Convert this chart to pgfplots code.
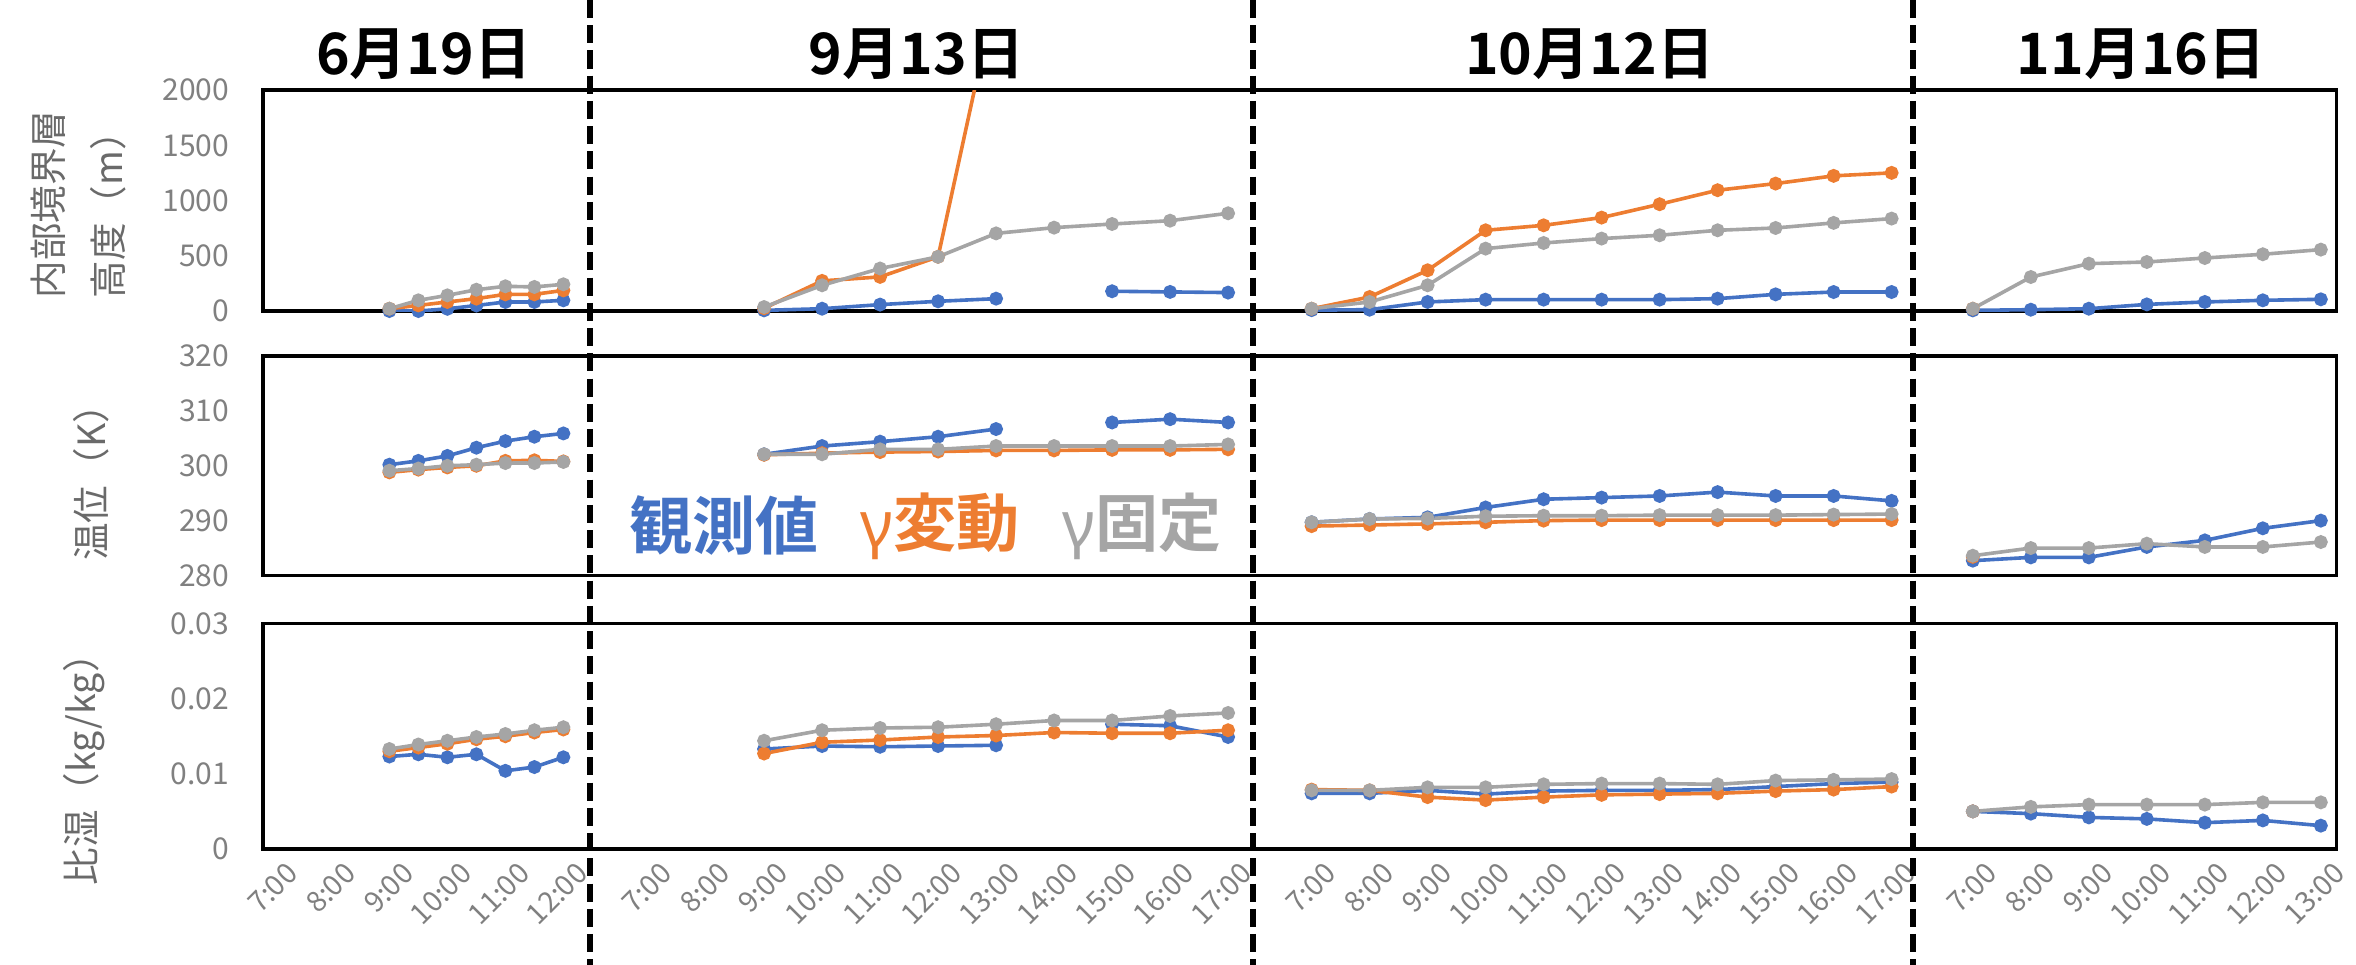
\documentclass[border=0pt]{standalone}
\usepackage{fontspec}
\setmainfont{Noto Sans CJK JP}[BoldFont={Noto Sans CJK JP Bold}]
\newfontfamily\latinfont{Noto Sans}
\usepackage{pgfplots}
\usepackage{pgfplotstable}
\pgfplotsset{compat=1.18}
\definecolor{cblue}{HTML}{4472C4}
\definecolor{corange}{HTML}{ED7D31}
\definecolor{cgray}{HTML}{A5A5A5}
\definecolor{tickgray}{HTML}{808080}
\definecolor{labgray}{HTML}{6A6A6A}

% ---------------- data ----------------
% x: day1 7:00=0 ; day2 7:00=6.46 ; day3 7:00=17.90 ; day4 7:00=29.30
\pgfplotstableread[row sep=\\]{
x y\\
2 0\\ 2.5 0\\ 3 20\\ 3.5 50\\ 4 82\\ 4.5 82\\ 5 97\\
nan nan\\
8.46 6\\ 9.46 21\\ 10.46 58\\ 11.46 88\\ 12.46 112\\ 13.46 nan\\ 14.46 179\\ 15.46 173\\ 16.46 167\\
nan nan\\
17.90 8\\ 18.90 12\\ 19.90 82\\ 20.90 103\\ 21.90 103\\ 22.90 103\\ 23.90 103\\ 24.90 112\\ 25.90 151\\ 26.90 172\\ 27.90 172\\
nan nan\\
29.30 6\\ 30.30 12\\ 31.30 21\\ 32.30 60\\ 33.30 82\\ 34.30 97\\ 35.30 106\\
}\hObs
\pgfplotstableread[row sep=\\]{
x y\\
2 21\\ 2.5 51\\ 3 82\\ 3.5 112\\ 4 151\\ 4.5 151\\ 5 187\\
nan nan\\
8.46 25\\ 9.46 273\\ 10.46 309\\ 11.46 491\\ 12.46 2900\\
nan nan\\
17.90 21\\ 18.90 127\\ 19.90 369\\ 20.90 731\\ 21.90 776\\ 22.90 846\\ 23.90 967\\ 24.90 1094\\ 25.90 1154\\ 26.90 1224\\ 27.90 1251\\
nan nan\\
29.30 21\\
}\hVar
\pgfplotstableread[row sep=\\]{
x y\\
2 21\\ 2.5 97\\ 3 142\\ 3.5 193\\ 4 224\\ 4.5 218\\ 5 242\\
nan nan\\
8.46 36\\ 9.46 233\\ 10.46 385\\ 11.46 491\\ 12.46 703\\ 13.46 755\\ 14.46 788\\ 15.46 818\\ 16.46 885\\
nan nan\\
17.90 21\\ 18.90 82\\ 19.90 233\\ 20.90 565\\ 21.90 616\\ 22.90 656\\ 23.90 686\\ 24.90 731\\ 25.90 752\\ 26.90 798\\ 27.90 837\\
nan nan\\
29.30 21\\ 30.30 308\\ 31.30 429\\ 32.30 444\\ 33.30 480\\ 34.30 514\\ 35.30 556\\
}\hFix

\pgfplotstableread[row sep=\\]{
x y\\
2 300.2\\ 2.5 300.9\\ 3 301.8\\ 3.5 303.3\\ 4 304.5\\ 4.5 305.3\\ 5 305.9\\
nan nan\\
8.46 302.1\\ 9.46 303.6\\ 10.46 304.4\\ 11.46 305.3\\ 12.46 306.7\\ 13.46 nan\\ 14.46 307.9\\ 15.46 308.5\\ 16.46 307.9\\
nan nan\\
17.90 289.7\\ 18.90 290.3\\ 19.90 290.6\\ 20.90 292.4\\ 21.90 293.9\\ 22.90 294.2\\ 23.90 294.5\\ 24.90 295.2\\ 25.90 294.5\\ 26.90 294.5\\ 27.90 293.6\\
nan nan\\
29.30 282.7\\ 30.30 283.3\\ 31.30 283.3\\ 32.30 285.2\\ 33.30 286.4\\ 34.30 288.6\\ 35.30 290.0\\
}\tObs
\pgfplotstableread[row sep=\\]{
x y\\
2 298.8\\ 2.5 299.3\\ 3 299.7\\ 3.5 300.0\\ 4 300.9\\ 4.5 301.0\\ 5 300.8\\
nan nan\\
8.46 302.0\\ 9.46 302.3\\ 10.46 302.5\\ 11.46 302.6\\ 12.46 302.8\\ 13.46 302.8\\ 14.46 302.9\\ 15.46 302.9\\ 16.46 303.0\\
nan nan\\
17.90 289.0\\ 18.90 289.2\\ 19.90 289.4\\ 20.90 289.7\\ 21.90 290.0\\ 22.90 290.1\\ 23.90 290.1\\ 24.90 290.1\\ 25.90 290.1\\ 26.90 290.1\\ 27.90 290.1\\
nan nan\\
29.30 283.4\\
}\tVar
\pgfplotstableread[row sep=\\]{
x y\\
2 299.1\\ 2.5 299.5\\ 3 300.0\\ 3.5 300.2\\ 4 300.5\\ 4.5 300.5\\ 5 300.7\\
nan nan\\
8.46 302.1\\ 9.46 302.1\\ 10.46 303.0\\ 11.46 303.0\\ 12.46 303.6\\ 13.46 303.6\\ 14.46 303.6\\ 15.46 303.6\\ 16.46 303.9\\
nan nan\\
17.90 289.7\\ 18.90 290.3\\ 19.90 290.4\\ 20.90 290.8\\ 21.90 290.9\\ 22.90 290.9\\ 23.90 291.0\\ 24.90 291.0\\ 25.90 291.0\\ 26.90 291.1\\ 27.90 291.2\\
nan nan\\
29.30 283.6\\ 30.30 285.0\\ 31.30 285.0\\ 32.30 285.8\\ 33.30 285.2\\ 34.30 285.2\\ 35.30 286.1\\
}\tFix

\pgfplotstableread[row sep=\\]{
x y\\
2 0.0123\\ 2.5 0.0126\\ 3 0.0122\\ 3.5 0.0126\\ 4 0.0104\\ 4.5 0.0109\\ 5 0.0122\\
nan nan\\
8.46 0.0133\\ 9.46 0.0137\\ 10.46 0.0136\\ 11.46 0.0137\\ 12.46 0.0138\\ 13.46 nan\\ 14.46 0.0166\\ 15.46 0.0164\\ 16.46 0.0149\\
nan nan\\
17.90 0.0074\\ 18.90 0.0074\\ 19.90 0.0078\\ 20.90 0.0073\\ 21.90 0.0077\\ 22.90 0.0078\\ 23.90 0.0078\\ 24.90 0.0079\\ 25.90 0.0083\\ 26.90 0.0087\\ 27.90 0.0089\\
nan nan\\
29.30 0.0050\\ 30.30 0.0047\\ 31.30 0.0042\\ 32.30 0.0040\\ 33.30 0.0035\\ 34.30 0.0038\\ 35.30 0.0031\\
}\qObs
\pgfplotstableread[row sep=\\]{
x y\\
2 0.0130\\ 2.5 0.0135\\ 3 0.0140\\ 3.5 0.0146\\ 4 0.0150\\ 4.5 0.0155\\ 5 0.0159\\
nan nan\\
8.46 0.0127\\ 9.46 0.0142\\ 10.46 0.0145\\ 11.46 0.0149\\ 12.46 0.0151\\ 13.46 0.0155\\ 14.46 0.0154\\ 15.46 0.0154\\ 16.46 0.0158\\
nan nan\\
17.90 0.0079\\ 18.90 0.0078\\ 19.90 0.0069\\ 20.90 0.0065\\ 21.90 0.0069\\ 22.90 0.0072\\ 23.90 0.0073\\ 24.90 0.0074\\ 25.90 0.0077\\ 26.90 0.0079\\ 27.90 0.0083\\
nan nan\\
29.30 0.0050\\
}\qVar
\pgfplotstableread[row sep=\\]{
x y\\
2 0.0133\\ 2.5 0.0139\\ 3 0.0144\\ 3.5 0.0149\\ 4 0.0153\\ 4.5 0.0158\\ 5 0.0162\\
nan nan\\
8.46 0.0144\\ 9.46 0.0158\\ 10.46 0.0161\\ 11.46 0.0162\\ 12.46 0.0166\\ 13.46 0.0171\\ 14.46 0.0171\\ 15.46 0.0177\\ 16.46 0.0181\\
nan nan\\
17.90 0.0078\\ 18.90 0.0078\\ 19.90 0.0082\\ 20.90 0.0082\\ 21.90 0.0086\\ 22.90 0.0087\\ 23.90 0.0087\\ 24.90 0.0086\\ 25.90 0.0091\\ 26.90 0.0092\\ 27.90 0.0093\\
nan nan\\
29.30 0.0050\\ 30.30 0.0056\\ 31.30 0.0059\\ 32.30 0.0059\\ 33.30 0.0059\\ 34.30 0.0062\\ 35.30 0.0062\\
}\qFix

\pgfplotsset{
  rowax/.style={
    scale only axis, width=690pt, anchor=north west,
    xmin=-0.18, xmax=35.57,
    axis line style={line width=1.2pt, black},
    xtick style={draw=none}, ytick style={draw=none},
    yticklabel style={font=\fontsize{10}{12}\selectfont, text=tickgray, inner sep=0pt, anchor=east, xshift=-11pt,
      /pgf/number format/1000 sep={}},
    /pgf/number format/assume math mode=true,
    unbounded coords=jump,
  },
  obs/.style={draw=cblue, line width=1.2pt, mark=*, mark size=1.7pt, mark options={fill=cblue, draw=none}},
  var/.style={draw=corange, line width=1.2pt, mark=*, mark size=1.7pt, mark options={fill=corange, draw=none}},
  fix/.style={draw=cgray, line width=1.2pt, mark=*, mark size=1.7pt, mark options={fill=cgray, draw=none}},
}

\begin{document}
\begin{tikzpicture}
\useasboundingbox (0,0) rectangle (784pt,-321pt);

% row 1
\begin{axis}[rowax, at={(87.5pt,-30pt)}, height=73.5pt,
  ymin=0, ymax=2000, ytick={0,500,1000,1500,2000}, xtick=\empty]
\addplot[obs] table[x=x,y=y] {\hObs};
\addplot[var] table[x=x,y=y] {\hVar};
\addplot[fix] table[x=x,y=y] {\hFix};
\end{axis}

% row 2
\begin{axis}[rowax, at={(87.5pt,-118.5pt)}, height=73pt,
  ymin=280, ymax=320, ytick={280,290,300,310,320}, xtick=\empty]
\addplot[obs] table[x=x,y=y] {\tObs};
\addplot[var] table[x=x,y=y] {\tVar};
\addplot[fix] table[x=x,y=y] {\tFix};
\end{axis}

% row 3
\begin{axis}[rowax, at={(87.5pt,-207.5pt)}, height=75pt,
  ymin=0, ymax=0.03, ytick={0,0.01,0.02,0.03},
  scaled y ticks=false,
  yticklabel style={/pgf/number format/fixed, /pgf/number format/precision=2},
  xtick={0,1,2,3,4,5,6.46,7.46,8.46,9.46,10.46,11.46,12.46,13.46,14.46,15.46,16.46,17.9,18.9,19.9,20.9,21.9,22.9,23.9,24.9,25.9,26.9,27.9,29.3,30.3,31.3,32.3,33.3,34.3,35.3},
  xticklabels={7:00,8:00,9:00,10:00,11:00,12:00,7:00,8:00,9:00,10:00,11:00,12:00,13:00,14:00,15:00,16:00,17:00,7:00,8:00,9:00,10:00,11:00,12:00,13:00,14:00,15:00,16:00,17:00,7:00,8:00,9:00,10:00,11:00,12:00,13:00},
  xticklabel style={rotate=45, anchor=east, font=\fontsize{9.5}{11}\selectfont, text=tickgray, inner sep=0pt, yshift=-9pt}]
\addplot[obs] table[x=x,y=y] {\qObs};
\addplot[var] table[x=x,y=y] {\qVar};
\addplot[fix] table[x=x,y=y] {\qFix};
\end{axis}

% day separators
\foreach \xx in {196.4pt,416.85pt,636.5pt}
  \draw[black, line width=2pt, dash pattern=on 6pt off 2.4pt] (\xx,0) -- (\xx,-321pt);

% day headers
\begin{scope}[every node/.style={font=\bfseries\fontsize{19}{22}\selectfont}]
\node at (141pt,-18pt) {6月19日};
\node at (305pt,-18pt) {9月13日};
\node at (529pt,-18pt) {10月12日};
\node at (712.5pt,-18pt) {11月16日};
\end{scope}

% legend text
\node[font=\bfseries\fontsize{21}{24}\selectfont, text=cblue] at (241pt,-175pt) {観測値};
\node[font=\bfseries\fontsize{21}{24}\selectfont, text=corange] at (312.75pt,-175pt) {{\latinfont\bfseries γ}変動};
\node[font=\bfseries\fontsize{21}{24}\selectfont, text=cgray] at (380pt,-175pt) {{\latinfont\bfseries γ}固定};

% y-axis titles
\begin{scope}[every node/.style={rotate=90, font=\fontsize{12.5}{14}\selectfont, text=labgray, inner sep=0pt}]
\node[anchor=west] at (16pt,-99.5pt) {内部境界層};
\node[anchor=west] at (36pt,-99.5pt) {高度（m）};
\node at (30.5pt,-157.5pt) {温位（K）};
\node at (28pt,-253pt) {比湿（kg/kg）};
\end{scope}
\end{tikzpicture}
\end{document}
